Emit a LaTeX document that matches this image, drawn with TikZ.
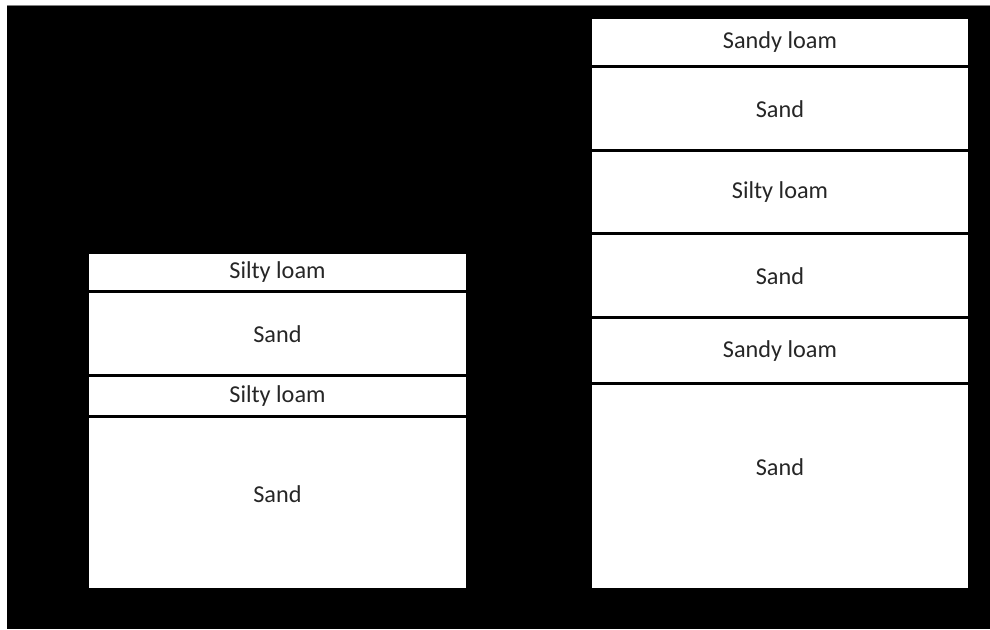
\documentclass[tikz,border=0pt]{standalone}
\usepackage{fontspec}
\setmainfont{Carlito}
\usetikzlibrary{positioning}

\begin{document}
\begin{tikzpicture}[
  x=0.02cm, y=-0.02cm,
  layer/.style={draw=black, fill=white, line width=0.06cm, inner sep=0pt, outer sep=0pt,
    anchor=north west, text=black!85, font=\fontsize{13.8}{16}\selectfont},
  leftlayer/.style={layer, minimum width=7.62cm},
  rightlayer/.style={layer, minimum width=7.6cm}
]
  \useasboundingbox (0,0) rectangle (990,629);
  % background
  \fill[black] (7,5) rectangle (990,629);
  \draw[gray, thin] (7,5) -- (990,5);

  % left column
  \node[leftlayer, minimum height=0.8cm] (lsilt1) at (87,252) {Silty loam};
  \node[leftlayer, minimum height=1.68cm, below=0pt of lsilt1.south west, anchor=north west] (lsand1) {Sand};
  \node[leftlayer, minimum height=0.82cm, below=0pt of lsand1.south west, anchor=north west] (lsilt2) {Silty loam};
  \node[leftlayer, minimum height=3.46cm, text depth=0.38cm, below=0pt of lsilt2.south west, anchor=north west] (lsand2) {Sand};

  % right column
  \node[rightlayer, minimum height=1.0cm] (rsandy1) at (590,17) {Sandy loam};
  \node[rightlayer, minimum height=1.68cm, below=0pt of rsandy1.south west, anchor=north west] (rsand1) {Sand};
  \node[rightlayer, minimum height=1.66cm, below=0pt of rsand1.south west, anchor=north west] (rsilt) {Silty loam};
  \node[rightlayer, minimum height=1.68cm, below=0pt of rsilt.south west, anchor=north west] (rsand2) {Sand};
  \node[rightlayer, minimum height=1.32cm, below=0pt of rsand2.south west, anchor=north west] (rsandy2) {Sandy loam};
  \node[rightlayer, minimum height=4.12cm, text depth=0.78cm, below=0pt of rsandy2.south west, anchor=north west] (rsand3) {Sand};
\end{tikzpicture}
\end{document}
